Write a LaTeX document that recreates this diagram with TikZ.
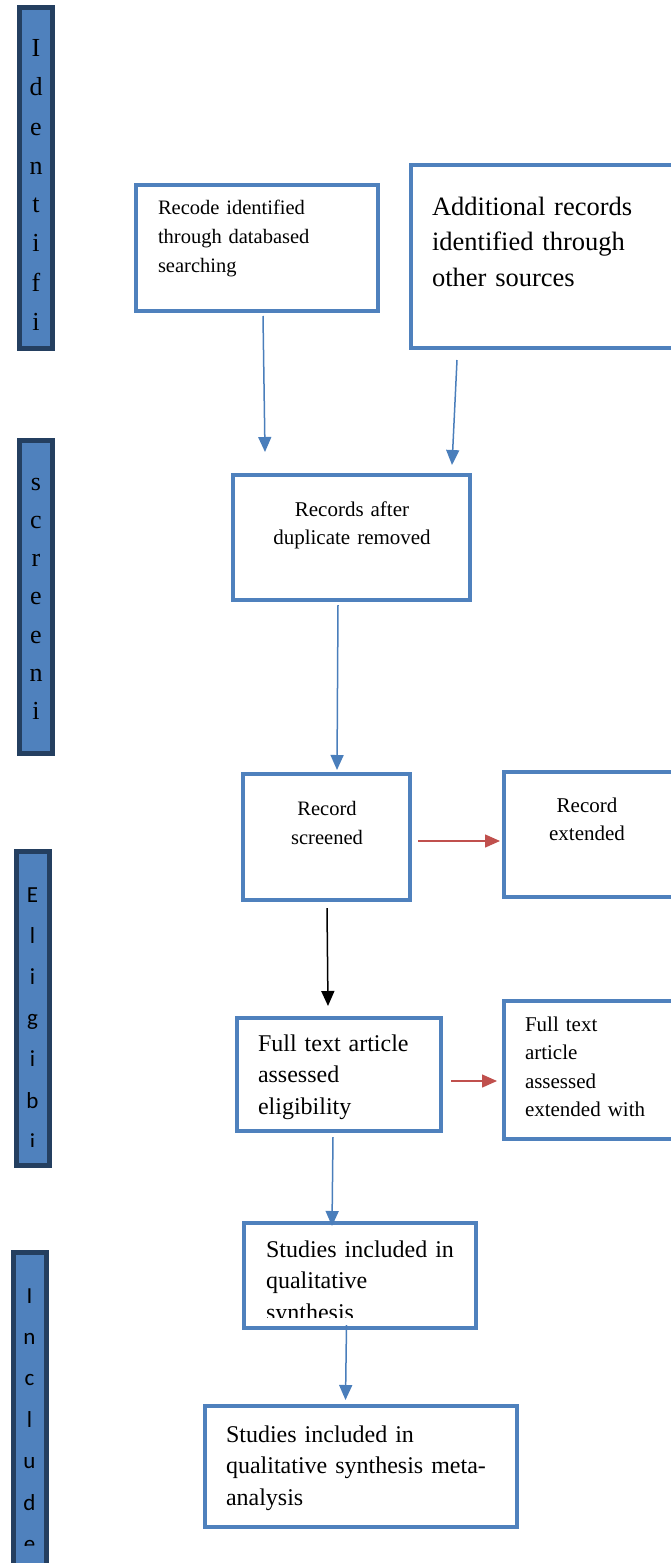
\documentclass[tikz,border=0pt]{standalone}
\usepackage{fontspec}
\setmainfont{Liberation Serif}
\newfontfamily\calib{Carlito}
\usetikzlibrary{arrows.meta}
\definecolor{boxblue}{HTML}{4F81BD}
\definecolor{bardark}{HTML}{243F60}
\definecolor{barfill}{HTML}{4F81BD}
\definecolor{arrblue}{HTML}{4A7EBB}
\definecolor{arrred}{HTML}{C0504D}
\begin{document}
\begin{tikzpicture}[x=1pt,y=-1pt,
  bx/.style={draw=boxblue,line width=4.5pt,inner sep=0pt,outer sep=0pt,rectangle},
  sidebar/.style={draw=bardark,fill=barfill,line width=5pt,inner sep=0pt,outer sep=0pt,minimum width=33pt},
  txt/.style={inner sep=0pt,outer sep=0pt,align=left},
  ctxt/.style={inner sep=0pt,outer sep=0pt,align=center},
  bartext/.style={inner sep=0pt,outer sep=0pt,align=center,text width=30pt},
  barr/.style={draw=arrblue,line width=1.5pt,-{Triangle[length=15pt,width=13pt]}},
  rarr/.style={draw=arrred,line width=1.5pt,-{Triangle[length=15pt,width=13pt]}},
  karr/.style={draw=black,line width=1.5pt,-{Triangle[length=15pt,width=13pt]}}]
\useasboundingbox (0,0) rectangle (670,1563);

% side bars
\node[sidebar,minimum height=340pt] (bar1) at (35.5,178) {};
\node[sidebar,minimum height=313pt] (bar2) at (35.5,596.5) {};
\node[sidebar,minimum height=314pt] (bar3) at (32.5,1008) {};
\node[sidebar,minimum height=318pt] (bar4) at (29.5,1411) {};

\node[bartext,anchor=base,font=\fontsize{26}{39}\selectfont] (t1) at (36,57) {I\\d\\e\\n\\t\\i\\f\\i};
\node[bartext,anchor=base,font=\fontsize{26}{38.3}\selectfont] (t2) at (36,490) {s\\c\\r\\e\\e\\n\\i};
\begin{scope}
\clip (10,850) rectangle (60,1146);
\node[bartext,anchor=base,font=\calib\fontsize{23}{41.2}\selectfont] (t3) at (32.5,902) {E\\l\\i\\g\\i\\b\\i};
\end{scope}
\begin{scope}
\clip (5,1250) rectangle (60,1545);
\node[bartext,anchor=base,font=\calib\fontsize{23}{41.4}\selectfont] (t4) at (29.5,1303) {I\\n\\c\\l\\u\\d\\e};
\end{scope}

% boxes
\node[bx,minimum width=242pt,minimum height=126pt] (b1) at (257,248) {};
\node[bx,minimum width=269pt,minimum height=183pt] (b2) at (545.5,256.5) {};
\node[bx,minimum width=237pt,minimum height=125pt] (b3) at (351.5,537.5) {};
\node[bx,minimum width=167pt,minimum height=126pt] (b4) at (326.5,837) {};
\node[bx,minimum width=176pt,minimum height=125pt] (b5) at (592,834.5) {};
\node[bx,minimum width=204pt,minimum height=113pt] (b6) at (339,1074.5) {};
\node[bx,minimum width=176pt,minimum height=138pt] (b7) at (592,1070) {};
\node[bx,minimum width=232pt,minimum height=105pt] (b8) at (360,1275.5) {};
\node[bx,minimum width=312pt,minimum height=121pt] (b9) at (361,1466.5) {};

% texts
\node[txt,text width=215pt,anchor=base west,font=\fontsize{20.5}{29}\selectfont] (b1t) at (158,214) {Recode identified\\through databased\\searching};
\node[txt,text width=235pt,anchor=base west,font=\fontsize{26.5}{35.5}\selectfont] (b2t) at (432,215) {Additional records\\identified through\\other sources};
\node[ctxt,text width=220pt,anchor=base,font=\fontsize{21}{28}\selectfont] (b3t) at (352,516) {Records after\\duplicate removed};
\node[ctxt,text width=150pt,anchor=base,font=\fontsize{20.5}{29}\selectfont] (b4t) at (327,815) {Record\\screened};
\node[ctxt,text width=150pt,anchor=base,font=\fontsize{21}{28}\selectfont] (b5t) at (587,812) {Record\\extended};
\node[txt,text width=180pt,anchor=base west,font=\fontsize{24}{31.5}\selectfont] (b6t) at (258,1051) {Full text article\\assessed\\eligibility};
\node[txt,text width=140pt,anchor=base west,font=\fontsize{21}{28.5}\selectfont] (b7t) at (525,1031) {Full text\\article\\assessed\\extended with};
\begin{scope}
\clip (246,1225) rectangle (474,1317);
\node[txt,text width=205pt,anchor=base west,font=\fontsize{24}{31.5}\selectfont] (b8t) at (266,1257) {Studies included in\\qualitative\\synthesis};
\end{scope}
\node[txt,text width=285pt,anchor=base west,font=\fontsize{24}{31.5}\selectfont] (b9t) at (226,1442) {Studies included in\\qualitative synthesis meta-\\analysis};

% arrows
\draw[barr] ([xshift=6pt,yshift=-5pt]b1.south) -- ([xshift=-86.5pt,yshift=23pt]b3.north);
\draw[barr] ([xshift=-88.5pt,yshift=-12pt]b2.south) -- ([xshift=100.5pt,yshift=10pt]b3.north);
\draw[barr] ([xshift=-13.5pt,yshift=-5pt]b3.south) -- ([xshift=10.5pt,yshift=4pt]b4.north);
\draw[karr] ([xshift=0.5pt,yshift=-8pt]b4.south) -- ([xshift=-11pt,yshift=12pt]b6.north);
\draw[rarr] ([xshift=8pt,yshift=-4pt]b4.east) -- ([xshift=-4pt,yshift=-6.5pt]b5.west);
\draw[rarr] ([xshift=10pt,yshift=-6.5pt]b6.east) -- ([xshift=-7pt,yshift=-11pt]b7.west);
\draw[barr] ([xshift=-6pt,yshift=-6pt]b6.south) -- ([xshift=-28pt,yshift=-3pt]b8.north);
\draw[barr] ([xshift=-13.5pt,yshift=3pt]b8.south) -- ([xshift=-15.5pt,yshift=6pt]b9.north);
\end{tikzpicture}
\end{document}
